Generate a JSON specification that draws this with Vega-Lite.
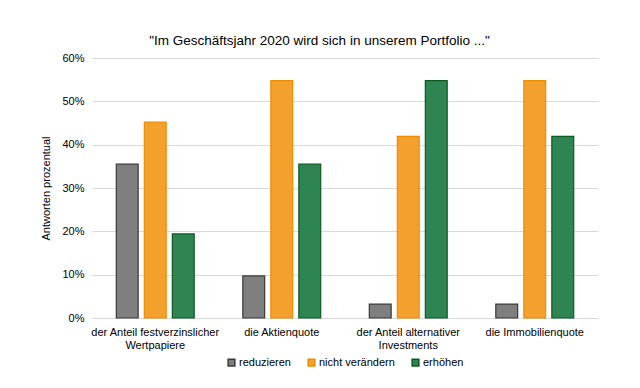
{
  "$schema": "https://vega.github.io/schema/vega-lite/v6.json",
  "autosize": {"type": "fit", "contains": "padding"},
  "width": 640,
  "height": 388,
  "padding": {"left": 40, "right": 42, "top": 33, "bottom": 19},
  "background": "white",
  "config": {
    "font": "Liberation Sans",
    "view": {"stroke": null},
    "axis": {"labelFont": "Liberation Sans", "titleFont": "Liberation Sans", "labelColor": "#000", "titleColor": "#000"},
    "legend": {"layout": {"bottom": {"anchor": "middle", "direction": "horizontal"}}}
  },
  "title": {
    "text": "\"Im Geschäftsjahr 2020 wird sich in unserem Portfolio ...\"",
    "fontSize": 13.5,
    "fontWeight": "normal",
    "color": "#000",
    "anchor": "middle",
    "frame": "bounds",
    "offset": 5
  },
  "data": {
    "values": [
      {"kategorie": "der Anteil festverzinslicher Wertpapiere", "antwort": "reduzieren", "anteil": 0.355},
      {"kategorie": "der Anteil festverzinslicher Wertpapiere", "antwort": "nicht verändern", "anteil": 0.452},
      {"kategorie": "der Anteil festverzinslicher Wertpapiere", "antwort": "erhöhen", "anteil": 0.194},
      {"kategorie": "die Aktienquote", "antwort": "reduzieren", "anteil": 0.097},
      {"kategorie": "die Aktienquote", "antwort": "nicht verändern", "anteil": 0.548},
      {"kategorie": "die Aktienquote", "antwort": "erhöhen", "anteil": 0.355},
      {"kategorie": "der Anteil alternativer Investments", "antwort": "reduzieren", "anteil": 0.032},
      {"kategorie": "der Anteil alternativer Investments", "antwort": "nicht verändern", "anteil": 0.419},
      {"kategorie": "der Anteil alternativer Investments", "antwort": "erhöhen", "anteil": 0.548},
      {"kategorie": "die Immobilienquote", "antwort": "reduzieren", "anteil": 0.032},
      {"kategorie": "die Immobilienquote", "antwort": "nicht verändern", "anteil": 0.548},
      {"kategorie": "die Immobilienquote", "antwort": "erhöhen", "anteil": 0.419}
    ]
  },
  "mark": {"type": "bar", "strokeWidth": 1.2},
  "encoding": {
    "x": {
      "field": "kategorie",
      "type": "nominal",
      "sort": null,
      "scale": {"paddingInner": 0.34, "paddingOuter": 0.17},
      "axis": {
        "title": null,
        "labelAngle": 0,
        "labelFontSize": 11,
        "labelPadding": 8,
        "ticks": false,
        "domain": false,
        "labelExpr": "datum.value == 'der Anteil festverzinslicher Wertpapiere' ? ['der Anteil festverzinslicher', 'Wertpapiere'] : datum.value == 'der Anteil alternativer Investments' ? ['der Anteil alternativer', 'Investments'] : datum.value",
        "labelLineHeight": 13
      }
    },
    "xOffset": {
      "field": "antwort",
      "type": "nominal",
      "sort": ["reduzieren", "nicht verändern", "erhöhen"],
      "scale": {"paddingInner": 0.22, "paddingOuter": 0.1}
    },
    "y": {
      "field": "anteil",
      "type": "quantitative",
      "scale": {"domain": [0, 0.6], "nice": false},
      "axis": {
        "title": "Antworten prozentual",
        "titleFontSize": 11,
        "titleFontWeight": "normal",
        "titlePadding": 10,
        "format": ".0%",
        "values": [0, 0.1, 0.2, 0.3, 0.4, 0.5, 0.6],
        "labelOverlap": false,
        "labelFontSize": 11,
        "labelPadding": 8,
        "ticks": false,
        "domain": false,
        "gridColor": "#d9d9d9",
        "gridWidth": 1
      }
    },
    "color": {
      "field": "antwort",
      "type": "nominal",
      "sort": ["reduzieren", "nicht verändern", "erhöhen"],
      "scale": {"domain": ["reduzieren", "nicht verändern", "erhöhen"], "range": ["#7f7f7f", "#f4a02c", "#2e8552"]},
      "legend": {
        "title": null,
        "orient": "bottom",
        "direction": "horizontal",
        "symbolType": "square",
        "symbolSize": 45,
        "symbolStrokeWidth": 1.5,
        "labelFontSize": 11,
        "labelOffset": 2,
        "columnPadding": 14,
        "offset": 7
      }
    },
    "stroke": {
      "field": "antwort",
      "type": "nominal",
      "scale": {"domain": ["reduzieren", "nicht verändern", "erhöhen"], "range": ["#3a3a3a", "#f08c00", "#0b5a22"]},
      "legend": null
    }
  }
}
